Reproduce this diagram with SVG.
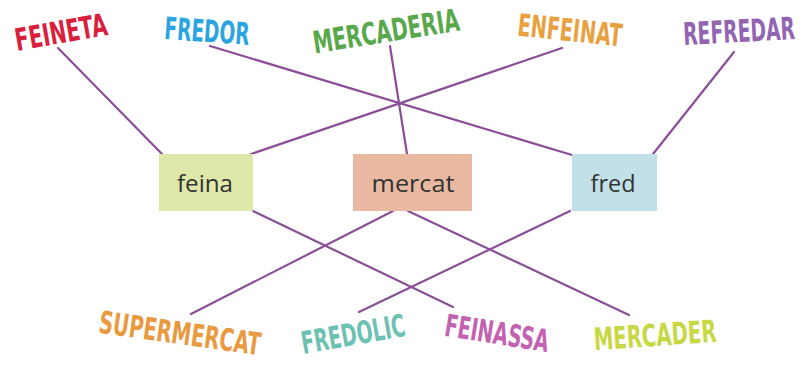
<svg xmlns="http://www.w3.org/2000/svg" width="804" height="365" viewBox="0 0 804 365">
<style>
.w{font-family:"Liberation Sans Narrow","DejaVu Sans Condensed","Liberation Sans",sans-serif;font-weight:bold;font-size:31px;text-anchor:middle}
.b{font-family:"Open Sans","Liberation Sans",sans-serif;font-size:24px;fill:#333;text-anchor:middle}
.c{stroke:#8b4f98;stroke-width:2.2;fill:none;stroke-linecap:round}
</style>
<rect width="804" height="365" fill="#fff"/>
<g id="connectors">
<line class="c" x1="58" y1="48" x2="162" y2="154"/>
<line class="c" x1="210" y1="46" x2="572" y2="155"/>
<line class="c" x1="390" y1="46" x2="407" y2="154"/>
<line class="c" x1="562" y1="48" x2="251" y2="154"/>
<line class="c" x1="734" y1="52" x2="653" y2="154"/>
<line class="c" x1="253" y1="211" x2="453" y2="307"/>
<line class="c" x1="393" y1="211" x2="191" y2="314"/>
<line class="c" x1="408" y1="211" x2="629" y2="315"/>
<line class="c" x1="570" y1="211" x2="359" y2="312"/>
</g>
<g id="feina"><rect x="159" y="154" width="94" height="57" fill="#dfe8a8"/><text class="b" x="205" y="192" textLength="56" lengthAdjust="spacingAndGlyphs">feina</text></g>
<g id="mercat"><rect x="353" y="154" width="119" height="57" fill="#e9b9a1"/><text class="b" x="413" y="192" textLength="83" lengthAdjust="spacingAndGlyphs">mercat</text></g>
<g id="fred"><rect x="572" y="154" width="85" height="57" fill="#c2e0e8"/><text class="b" x="613" y="192" textLength="45" lengthAdjust="spacingAndGlyphs">fred</text></g>
<g id="FEINETA"><text class="w" fill="#d8203c" x="61" y="43" textLength="93" lengthAdjust="spacingAndGlyphs" transform="rotate(-10 61 32)">FEINETA</text></g>
<g id="FREDOR"><text class="w" fill="#2aa5e0" x="207" y="42" textLength="85" lengthAdjust="spacingAndGlyphs" transform="rotate(4 207 31)">FREDOR</text></g>
<g id="MERCADERIA"><text class="w" fill="#5aa84c" x="386" y="42" textLength="148" lengthAdjust="spacingAndGlyphs" transform="rotate(-9 386 31)">MERCADERIA</text></g>
<g id="ENFEINAT"><text class="w" fill="#e9a03e" x="570" y="41" textLength="105" lengthAdjust="spacingAndGlyphs" transform="rotate(6 570 30)">ENFEINAT</text></g>
<g id="REFREDAR"><text class="w" fill="#9264b2" x="739" y="42" textLength="112" lengthAdjust="spacingAndGlyphs" transform="rotate(-3 739 31)">REFREDAR</text></g>
<g id="SUPERMERCAT"><text class="w" fill="#e99a40" x="180" y="344" textLength="163" lengthAdjust="spacingAndGlyphs" transform="rotate(8 180 333)">SUPERMERCAT</text></g>
<g id="FREDOLIC"><text class="w" fill="#6cc1b2" x="353" y="345" textLength="105" lengthAdjust="spacingAndGlyphs" transform="rotate(-10 353 334)">FREDOLIC</text></g>
<g id="FEINASSA"><text class="w" fill="#c462b2" x="497" y="344" textLength="105" lengthAdjust="spacingAndGlyphs" transform="rotate(9 497 333)">FEINASSA</text></g>
<g id="MERCADER"><text class="w" fill="#c8d844" x="655" y="346" textLength="123" lengthAdjust="spacingAndGlyphs" transform="rotate(-4 655 335)">MERCADER</text></g>
</svg>
